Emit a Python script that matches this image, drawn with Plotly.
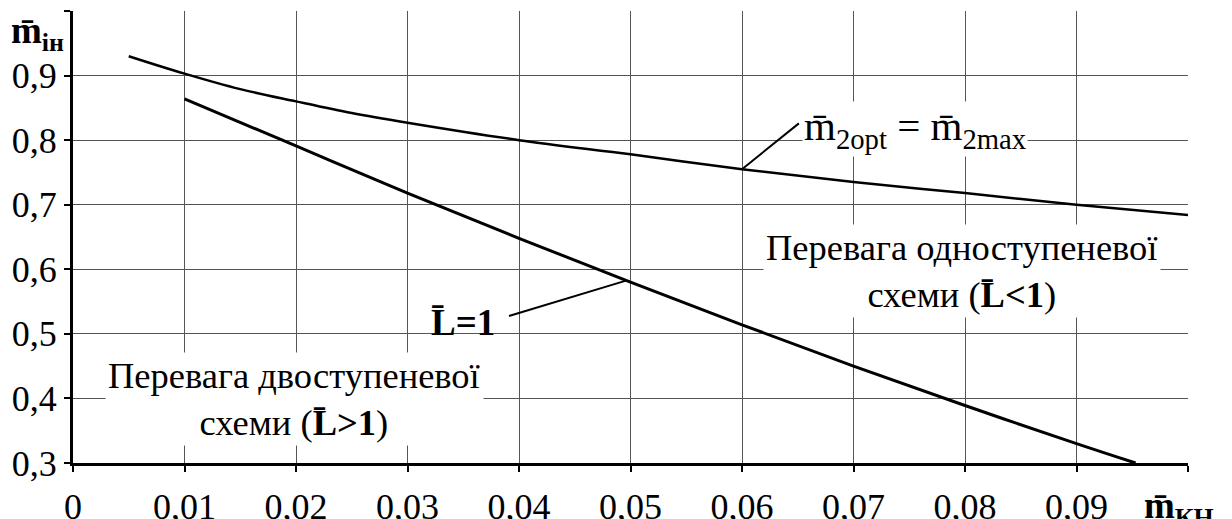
import plotly.graph_objects as go

# Upper curve: m2opt = m2max
x_opt = [0.005, 0.01, 0.015, 0.02, 0.025, 0.03, 0.04, 0.05, 0.06, 0.07, 0.08, 0.09, 0.10]
y_opt = [0.930, 0.903, 0.879, 0.860, 0.842, 0.827, 0.800, 0.778, 0.755, 0.735, 0.718, 0.700, 0.684]

# Lower curve: L = 1
x_l1 = [0.01, 0.02, 0.03, 0.04, 0.05, 0.06, 0.07, 0.08, 0.09, 0.0953]
y_l1 = [0.864, 0.791, 0.718, 0.648, 0.580, 0.514, 0.450, 0.389, 0.330, 0.300]

x_ticks = [0, 0.01, 0.02, 0.03, 0.04, 0.05, 0.06, 0.07, 0.08, 0.09, 0.10]
x_labels = ["0", "0,01", "0,02", "0,03", "0,04", "0,05", "0,06", "0,07", "0,08", "0,09", ""]
y_ticks = [0.3, 0.4, 0.5, 0.6, 0.7, 0.8, 0.9, 1.0]
y_labels = ["0,3", "0,4", "0,5", "0,6", "0,7", "0,8", "0,9", ""]

FONT = "Times New Roman"
MBAR = "m\u0304"
LBAR = "L\u0304"

fig = go.Figure()
fig.add_trace(go.Scatter(x=x_opt, y=y_opt, mode="lines", line=dict(color="black", width=2.5, shape="spline"),
                         showlegend=False, hoverinfo="skip"))
fig.add_trace(go.Scatter(x=x_l1, y=y_l1, mode="lines", line=dict(color="black", width=3, shape="spline"),
                         showlegend=False, hoverinfo="skip"))

# leader lines for the curve labels
fig.add_shape(type="line", x0=0.06, y0=0.755, x1=0.0651, y1=0.826, line=dict(color="black", width=2))
fig.add_shape(type="line", x0=0.0391, y0=0.5276, x1=0.0496, y1=0.5824, line=dict(color="black", width=2))

fig.add_annotation(x=0.07555, y=0.818, xref="x", yref="y", showarrow=False,
                   text=f"{MBAR}<sub>2opt</sub> = {MBAR}<sub>2max</sub>",
                   font=dict(family=FONT, size=41, color="black"), bgcolor="white", borderpad=1)
fig.add_annotation(x=0.035, y=0.518, xref="x", yref="y", showarrow=False,
                   text=f"<b>{LBAR}=1</b>",
                   font=dict(family=FONT, size=37, color="black"))
fig.add_annotation(x=0.0797, y=0.5975, xref="x", yref="y", showarrow=False,
                   text=f"Перевага одноступеневої<br>схеми (<b>{LBAR}<1</b>)",
                   font=dict(family=FONT, size=36.5, color="black"), bgcolor="white", borderpad=2)
fig.add_annotation(x=0.0199, y=0.3988, xref="x", yref="y", showarrow=False,
                   text=f"Перевага двоступеневої<br>схеми (<b>{LBAR}>1</b>)",
                   font=dict(family=FONT, size=36.5, color="black"), bgcolor="white", borderpad=2)

# axis titles
fig.add_annotation(x=-0.057, y=0.9495, xref="paper", yref="paper", xanchor="left", yanchor="middle",
                   showarrow=False, text=f"<b>{MBAR}<sub>iн</sub></b>",
                   font=dict(family=FONT, size=37, color="black"))
fig.add_annotation(x=0.992, y=-0.10, xref="paper", yref="paper", xanchor="center", yanchor="middle",
                   showarrow=False, text=f"<b>{MBAR}<sub>КН</sub></b>",
                   font=dict(family=FONT, size=37, color="black"))

fig.update_xaxes(range=[0, 0.1], tickvals=x_ticks, ticktext=x_labels, automargin=False,
                 showgrid=True, gridcolor="#555", gridwidth=1, zeroline=False,
                 showline=True, linecolor="black", linewidth=3,
                 ticks="outside", ticklen=6, tickcolor="black", tickwidth=1.5,
                 ticklabelstandoff=4,
                 tickfont=dict(family=FONT, size=36, color="black"))
fig.update_yaxes(range=[0.3, 1.0], tickvals=y_ticks, ticktext=y_labels, automargin=False,
                 showgrid=True, gridcolor="#555", gridwidth=1, zeroline=False,
                 showline=True, linecolor="black", linewidth=3,
                 ticks="outside", ticklen=6, tickcolor="black", tickwidth=1.5,
                 tickfont=dict(family=FONT, size=36, color="black"))

fig.update_layout(width=1232, height=519, margin=dict(l=73, r=44, t=11, b=56, autoexpand=False),
                  paper_bgcolor="white", plot_bgcolor="white",
                  font=dict(family=FONT, color="black"))

fig.write_html("out.html")
